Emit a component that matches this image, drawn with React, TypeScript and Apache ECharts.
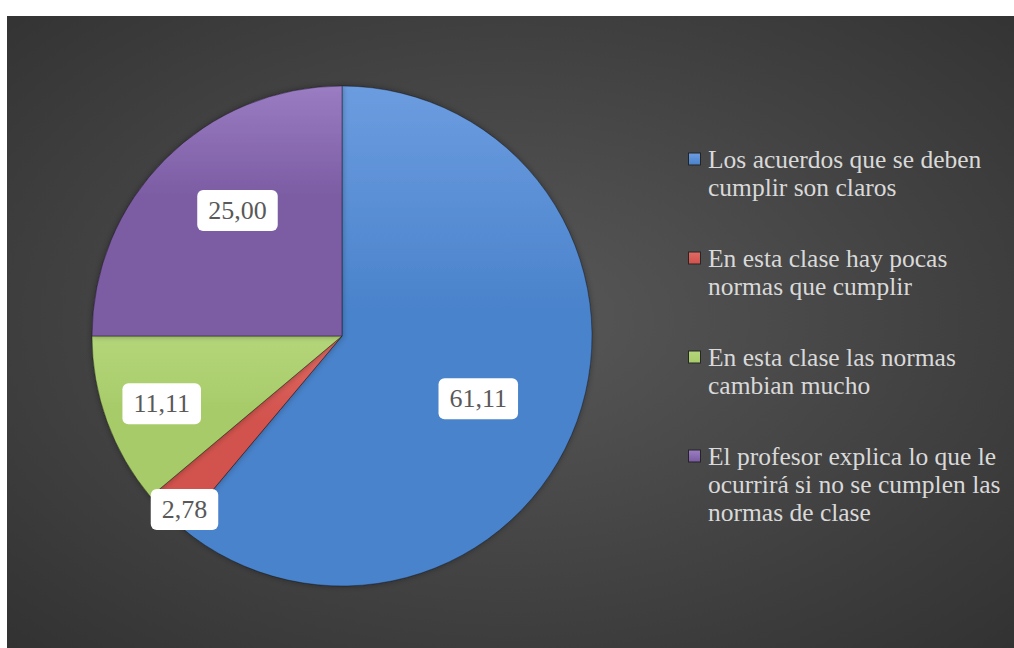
import React, { useEffect, useRef } from "react";
import * as echarts from "echarts";

const categories: string[] = [
  "Los acuerdos que se deben cumplir son claros",
  "En esta clase hay pocas normas que cumplir",
  "En esta clase las normas cambian mucho",
  "El profesor explica lo que le ocurrirá si no se cumplen las normas de clase",
];
const values: number[] = [61.11, 2.78, 11.11, 25.0];

const baseColors = ["#4a83cb", "#d2524d", "#a8cb6a", "#7b5ca3"];
const topColors = ["#6c9ce0", "#e06a63", "#b4d67a", "#9a7cc2"];
// label nudges relative to the default inside position
const labelOffsets: [number, number][] = [
  [16, 19],
  [-67, 83],
  [-60, 24],
  [-14, -35],
];

const SERIF = "'Liberation Serif', 'Times New Roman', serif";

function wrap(text: string, max: number): string[] {
  const words = text.split(" ");
  const lines: string[] = [];
  let cur = "";
  for (const w of words) {
    const next = cur ? cur + " " + w : w;
    if (next.length > max && cur) {
      lines.push(cur);
      cur = w;
    } else cur = next;
  }
  if (cur) lines.push(cur);
  return lines;
}

export default function App() {
  const ref = useRef<HTMLDivElement>(null);
  useEffect(() => {
    if (!ref.current) return;
    const chart = echarts.init(ref.current, undefined, { renderer: "svg" });
    const rich: any = {
      t: {
        fontFamily: SERIF,
        fontSize: 25.5,
        lineHeight: 28,
        color: "#d9d9d9",
      },
      ind: { width: 19, height: 1 },
      g: { width: 8, height: 1 },
    };
    baseColors.forEach((c, i) => {
      rich["sq" + i] = {
        width: 11,
        height: 11,
        backgroundColor: {
          type: "linear",
          x: 0,
          y: 0,
          x2: 0,
          y2: 1,
          colorStops: [
            { offset: 0, color: topColors[i] },
            { offset: 1, color: c },
          ],
        },
        borderColor: "rgba(0,0,0,0.5)",
        borderWidth: 1,
      };
    });
    chart.setOption({
      animation: false,
      backgroundColor: {
        type: "radial",
        x: 0.5,
        y: 0.48,
        r: 0.95,
        colorStops: [
          { offset: 0, color: "#585858" },
          { offset: 1, color: "#262626" },
        ],
      },
      legend: {
        orient: "vertical",
        left: 671,
        top: 125,
        itemWidth: 0,
        itemHeight: 0,
        itemGap: 45,
        selectedMode: false,
        data: categories,
        formatter: (name: string) => {
          const idx = categories.indexOf(name);
          return wrap(name, 29)
            .map((l, i) =>
              i === 0 ? `{sq${idx}|}{g|}{t|${l}}` : `{ind|}{t|${l}}`
            )
            .join("\n");
        },
        textStyle: { fontFamily: SERIF, rich },
      },
      series: [
        {
          type: "pie",
          center: [335, 320],
          radius: [0, 250],
          startAngle: 90,
          clockwise: true,
          avoidLabelOverlap: false,
          data: categories.map((name, i) => ({
            name,
            value: values[i],
            itemStyle: {
              color: {
                type: "linear",
                x: 0,
                y: 0,
                x2: 0,
                y2: 1,
                colorStops: [
                  { offset: 0, color: topColors[i] },
                  { offset: 0.45, color: baseColors[i] },
                  { offset: 1, color: baseColors[i] },
                ],
              },
            },
          })),
          itemStyle: {
            borderColor: "rgba(0,0,0,0.35)",
            borderWidth: 1,
            shadowBlur: 6,
            shadowColor: "rgba(0,0,0,0.35)",
          },
          label: {
            show: true,
            position: "inside",
            formatter: (p: any) => p.value.toFixed(2).replace(".", ","),
            backgroundColor: "#ffffff",
            borderRadius: 6,
            padding: [6, 11, 5, 11],
            color: "#595959",
            fontFamily: SERIF,
            fontSize: 26,
            lineHeight: 30,
          },
          labelLine: { show: false },
          labelLayout: (params: any) => {
            const o = labelOffsets[params.dataIndex];
            return { dx: o[0], dy: o[1] };
          },
          emphasis: { disabled: true },
        },
      ],
    });
    return () => chart.dispose();
  }, []);
  return (
    <div
      ref={ref}
      style={{ position: "absolute", left: 7, top: 16, width: 1007, height: 632 }}
    />
  );
}
